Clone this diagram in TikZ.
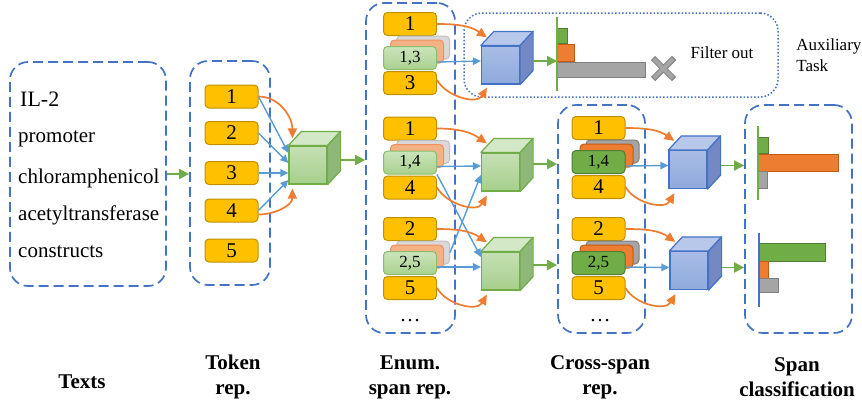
\documentclass[tikz,border=0pt]{standalone}
\usepackage{fontspec}
\setmainfont{Liberation Serif}
\usepackage{tikz}
\usetikzlibrary{shapes, arrows.meta, positioning}
\definecolor{tokF}{HTML}{FFC000}
\definecolor{tokD}{HTML}{BF9000}
\definecolor{cgreen}{HTML}{70AD47}
\definecolor{cgreenD}{HTML}{507E32}
\definecolor{corange}{HTML}{ED7D31}
\definecolor{corangeD}{HTML}{C55A11}
\definecolor{cgray}{HTML}{A5A5A5}
\definecolor{cgrayD}{HTML}{7F7F7F}
\definecolor{cblue}{HTML}{5B9BD5}
\definecolor{cdark}{HTML}{4472C4}
\definecolor{egreenT}{HTML}{CBE4BC}
\definecolor{egreenB}{HTML}{A9D18E}
\definecolor{esalmon}{HTML}{F4B183}
\definecolor{esalmonD}{HTML}{F09060}
\definecolor{egray}{HTML}{D9D9D9}
\definecolor{egrayD}{HTML}{BFBFBF}
\definecolor{gcubeT}{HTML}{C5E0B4}
\definecolor{gcubeB}{HTML}{A6CF8C}
\definecolor{gcubeS}{HTML}{8DB878}
\definecolor{gcubeU}{HTML}{D3E8C6}
\definecolor{bcubeT}{HTML}{A9BCE6}
\definecolor{bcubeB}{HTML}{8FAADC}
\definecolor{bcubeS}{HTML}{7489C4}
\definecolor{bcubeU}{HTML}{B8C8EA}
\tikzstyle{txt} = [font=\fontsize{21}{25}\selectfont, inner sep=0pt]
\tikzstyle{lbl} = [font=\fontsize{21}{25}\selectfont\bfseries, align=center]
\tikzstyle{dbox} = [rectangle, draw=cdark, line width=1.7pt, dash pattern=on 10pt off 5pt,
  rounded corners=18pt]
\tikzstyle{tok} = [rectangle, draw=tokD, fill=tokF, line width=1pt, rounded corners=4pt,
  minimum width=53pt, minimum height=23pt, inner sep=0pt, font=\fontsize{21}{21}\selectfont]
\tikzstyle{espan} = [tok, draw=cgreen!80, top color=egreenT, bottom color=egreenB,
  font=\fontsize{17}{17}\selectfont]
\tikzstyle{eback1} = [tok, draw=egrayD, fill=egray]
\tikzstyle{eback2} = [tok, draw=esalmonD, fill=esalmon]
\tikzstyle{xspan} = [tok, draw=cgreenD, fill=cgreen, font=\fontsize{17}{17}\selectfont]
\tikzstyle{xback1} = [tok, draw=cgrayD, fill=cgray]
\tikzstyle{xback2} = [tok, draw=corangeD, fill=corange]
\tikzstyle{gcube} = [rectangle, draw=cgreen, top color=gcubeT, bottom color=gcubeB,
  line width=1.2pt, minimum width=38pt, minimum height=38pt, inner sep=0pt]
\tikzstyle{bcube} = [gcube, draw=cdark, top color=bcubeT, bottom color=bcubeB]
\tikzstyle{garrow} = [draw=cgreen, line width=1.8pt, -{Triangle[length=10pt,width=10pt]}]
\tikzstyle{barrow} = [draw=cblue, line width=1.4pt, -{Triangle[length=8pt,width=7.5pt]}]
\tikzstyle{oarrow} = [draw=corange, line width=1.7pt, -{Triangle[length=10pt,width=9pt]}]
\tikzstyle{bar} = [line width=1pt]
% top and side of a cube: node, border, top colour, side colour
\newcommand{\cubefaces}[4]{%
  \filldraw [draw=#2, fill=#3, line width=1.2pt, line join=round] (#1.north west) -- ++(13,14)
    -- ([shift={(13pt,14pt)}]#1.north east) -- (#1.north east) -- cycle;
  \filldraw [draw=#2, fill=#4, line width=1.2pt, line join=round] (#1.north east)
    -- ([shift={(13pt,14pt)}]#1.north east) -- ([shift={(13pt,14pt)}]#1.south east)
    -- (#1.south east) -- cycle;}

\begin{document}
\begin{tikzpicture}[x=1pt, y=1pt]
    \useasboundingbox (0,0) rectangle (862,-410);

    % dashed frames
    \node [dbox, minimum width=156pt, minimum height=224pt] (textBox) at (88,-174) {};
    \node [dbox, minimum width=80pt, minimum height=224pt] (tokBox) at (230,-173) {};
    \node [dbox, minimum width=89pt, minimum height=330pt] (enumBox) at (410.5,-168) {};
    \node [dbox, minimum width=87pt, minimum height=228pt] (crossBox) at (601.5,-219) {};
    \node [dbox, minimum width=107pt, minimum height=228pt] (spanBox) at (798.5,-219) {};
    \node [dbox, line width=1.5pt, dash pattern=on 1.5pt off 2pt, minimum width=314pt,
      minimum height=84pt] (auxBox) at (621,-55) {};

    % input text
    \node [txt, anchor=base west, font=\fontsize{22}{25}\selectfont] (txtA) at (20,-106) {IL-2};
    \node [txt, anchor=base west] (txtB) at (18,-142) {promoter};
    \node [txt, anchor=base west] (txtC) at (18,-183) {chloramphenicol};
    \node [txt, anchor=base west] (txtD) at (18,-220) {acetyltransferase};
    \node [txt, anchor=base west] (txtE) at (18,-257) {constructs};

    % token representations
    \node [tok] (tok1) at (231.5,-96.5) {1};
    \node [tok] (tok2) at (231.5,-133) {2};
    \node [tok] (tok3) at (231.5,-173) {3};
    \node [tok] (tok4) at (231.5,-210.5) {4};
    \node [tok] (tok5) at (231.5,-250.5) {5};
    \node [gcube] (tokCube) at (308,-165) {};
    \cubefaces{tokCube}{cgreen}{gcubeU}{gcubeS}

    % enumerated spans
    \node [tok] (a1) at (410,-24) {1};
    \node [eback1] (a13g) at ([shift={(13pt,-23.5pt)}]a1) {};
    \node [eback2] (a13o) at ([shift={(7pt,-27.5pt)}]a1) {};
    \node [espan, below=10pt of a1] (a13) {1,3};
    \node [tok, below=1pt of a13] (a3) {3};

    \node [tok] (b1) at (410,-128.5) {1};
    \node [eback1] (b14g) at ([shift={(13pt,-23.5pt)}]b1) {};
    \node [eback2] (b14o) at ([shift={(7pt,-27.5pt)}]b1) {};
    \node [espan, below=10pt of b1] (b14) {1,4};
    \node [tok, below=1pt of b14] (b4) {4};

    \node [tok] (c2) at (410,-229) {2};
    \node [eback1] (c25g) at ([shift={(13pt,-23.5pt)}]c2) {};
    \node [eback2] (c25o) at ([shift={(7pt,-27.5pt)}]c2) {};
    \node [espan, below=10pt of c2] (c25) {2,5};
    \node [tok, below=1pt of c25] (c5) {5};
    \node [txt] (enumDots) at (410,-321) {\dots};

    \node [bcube] (auxCube) at (500.5,-65) {};
    \cubefaces{auxCube}{cdark}{bcubeU}{bcubeS}
    \node [gcube] (bCube) at (500.5,-172) {};
    \cubefaces{bCube}{cgreen}{gcubeU}{gcubeS}
    \node [gcube] (cCube) at (500.5,-271) {};
    \cubefaces{cCube}{cgreen}{gcubeU}{gcubeS}

    % cross-span representations
    \node [tok] (xb1) at (598.5,-128) {1};
    \node [xback1] (xb14g) at ([shift={(14pt,-23.5pt)}]xb1) {};
    \node [xback2] (xb14o) at ([shift={(8pt,-27.5pt)}]xb1) {};
    \node [xspan, below=10pt of xb1] (xb14) {1,4};
    \node [tok, below=1pt of xb14] (xb4) {4};

    \node [tok] (xc2) at (598.5,-229) {2};
    \node [xback1] (xc25g) at ([shift={(14pt,-23.5pt)}]xc2) {};
    \node [xback2] (xc25o) at ([shift={(8pt,-27.5pt)}]xc2) {};
    \node [xspan, below=10pt of xc2] (xc25) {2,5};
    \node [tok, below=1pt of xc25] (xc5) {5};
    \node [txt] (crossDots) at (600,-321) {\dots};

    \node [bcube] (xbCube) at (688,-169.5) {};
    \cubefaces{xbCube}{cdark}{bcubeU}{bcubeS}
    \node [bcube] (xcCube) at (689,-270.5) {};
    \cubefaces{xcCube}{cdark}{bcubeU}{bcubeS}

    % auxiliary task scores
    \filldraw [bar, draw=cgreenD, fill=cgreen] (557,-28) rectangle (567,-43);
    \filldraw [bar, draw=corangeD, fill=corange] (557,-44) rectangle (574,-61);
    \filldraw [bar, draw=cgrayD, fill=cgray] (557,-62) rectangle (645,-77);
    \draw [cgreen, line width=1.5pt] (557,-17) -- (557,-91);
    \coordinate (axA) at (557,-61);
    \draw [cgrayD, line width=6pt] (653,-58) -- (674,-79) (653,-79) -- (674,-58);
    \draw [cgray, line width=4pt] (653.8,-58.8) -- (673.2,-78.2) (653.8,-78.2) -- (673.2,-58.8);
    \node [font=\fontsize{17}{21}\selectfont] (filter) at (722,-53) {Filter out};
    \node [font=\fontsize{17}{21}\selectfont, align=left, right=14pt of auxBox] (auxTask)
      {Auxiliary\\Task};

    % span classification scores
    \filldraw [bar, draw=cgreenD, fill=cgreen] (758,-137) rectangle (768,-153);
    \filldraw [bar, draw=corangeD, fill=corange] (758,-154) rectangle (838,-171);
    \filldraw [bar, draw=cgrayD, fill=cgray] (758,-171) rectangle (767,-188);
    \draw [cgreen, line width=1.5pt] (758,-126) -- (758,-200);
    \filldraw [bar, draw=cgreenD, fill=cgreen] (759,-243) rectangle (825,-261);
    \filldraw [bar, draw=corangeD, fill=corange] (759,-261) rectangle (768,-278);
    \filldraw [bar, draw=cgrayD, fill=cgray] (759,-278) rectangle (778,-292);
    \draw [cdark, line width=1.5pt] (759,-233) -- (759,-307);

    % captions
    \node [lbl] (capTexts) at (82,-382) {Texts};
    \node [lbl] (capTok) at (233,-377) {Token\\rep.};
    \node [lbl] (capEnum) at (410,-377) {Enum.\\span rep.};
    \node [lbl] (capCross) at (600,-377) {Cross-span\\rep.};
    \node [lbl] (capSpan) at (797,-377) {Span\\classification};

    % connections
    \coordinate (tOut) at ([shift={(13pt,5pt)}]tokCube.east);
    \coordinate (bOut) at ([shift={(13pt,8pt)}]bCube.east);
    \coordinate (cOut) at ([shift={(13pt,6pt)}]cCube.east);
    \coordinate (xbOut) at ([shift={(13pt,4pt)}]xbCube.east);
    \coordinate (xcOut) at ([shift={(13pt,3pt)}]xcCube.east);
    \path [garrow] (textBox.east) -- (textBox.east -| tokBox.west);
    \path [garrow] (tOut) -- (tOut -| enumBox.west);
    \path [garrow] ([shift={(13pt,4pt)}]auxCube.east) -- (axA);
    \path [garrow] (bOut) -- (bOut -| crossBox.west);
    \path [garrow] (cOut) -- (cOut -| crossBox.west);
    \path [garrow] (xbOut) -- (xbOut -| spanBox.west);
    \path [garrow] (xcOut) -- (xcOut -| spanBox.west);

    \path [barrow] (tok1.east) -- ([yshift=12pt]tokCube.west);
    \path [barrow] (tok2.east) -- ([yshift=2pt]tokCube.west);
    \path [barrow] (tok3.east) -- ([yshift=-8pt]tokCube.west);
    \path [barrow] (tok4.east) -- ([yshift=-15pt]tokCube.west);
    \path [oarrow] (tok1.east) to[out=0, in=90] ([shift={(4pt,7pt)}]tokCube.north west);
    \path [oarrow] ([yshift=-4pt]tok4.east) to[out=0, in=-90] ([shift={(4pt,-4pt)}]tokCube.south west);

    \path [barrow] ([yshift=-4pt]a13.east) -- ([yshift=4pt]auxCube.west);
    \path [oarrow] (a1.east) to[out=0, in=145] ([shift={(6pt,8pt)}]auxCube.north west);
    \path [oarrow] ([yshift=3pt]a3.east) to[out=-60, in=-120] ([shift={(6pt,-3pt)}]auxCube.south west);

    \path [barrow] ([yshift=-4pt]b14.east) -- ([yshift=6pt]bCube.west);
    \path [barrow] (b14.south east) -- ([yshift=14pt]cCube.west);
    \path [barrow] (c25g.east) -- ([yshift=-3pt]bCube.west);
    \path [oarrow] (b1.east) to[out=0, in=145] ([shift={(6pt,9pt)}]bCube.north west);
    \path [oarrow] (b4.east) to[out=-60, in=-120] ([shift={(6pt,-4pt)}]bCube.south west);

    \path [barrow] ([yshift=-4pt]c25.east) -- ([yshift=4pt]cCube.west);
    \path [oarrow] (c2.east) to[out=0, in=145] ([shift={(6pt,9pt)}]cCube.north west);
    \path [oarrow] (c5.east) to[out=-60, in=-120] ([shift={(6pt,-4pt)}]cCube.south west);

    \path [barrow] ([yshift=-4pt]xb14.east) -- ([yshift=4pt]xbCube.west);
    \path [oarrow] (xb1.east) to[out=0, in=145] ([shift={(6pt,9pt)}]xbCube.north west);
    \path [oarrow] (xb4.east) to[out=-60, in=-120] ([shift={(6pt,-4pt)}]xbCube.south west);

    \path [barrow] ([yshift=-4pt]xc25.east) -- ([yshift=3pt]xcCube.west);
    \path [oarrow] (xc2.east) to[out=0, in=145] ([shift={(6pt,9pt)}]xcCube.north west);
    \path [oarrow] (xc5.east) to[out=-60, in=-120] ([shift={(6pt,-4pt)}]xcCube.south west);

\end{tikzpicture}
\end{document}
